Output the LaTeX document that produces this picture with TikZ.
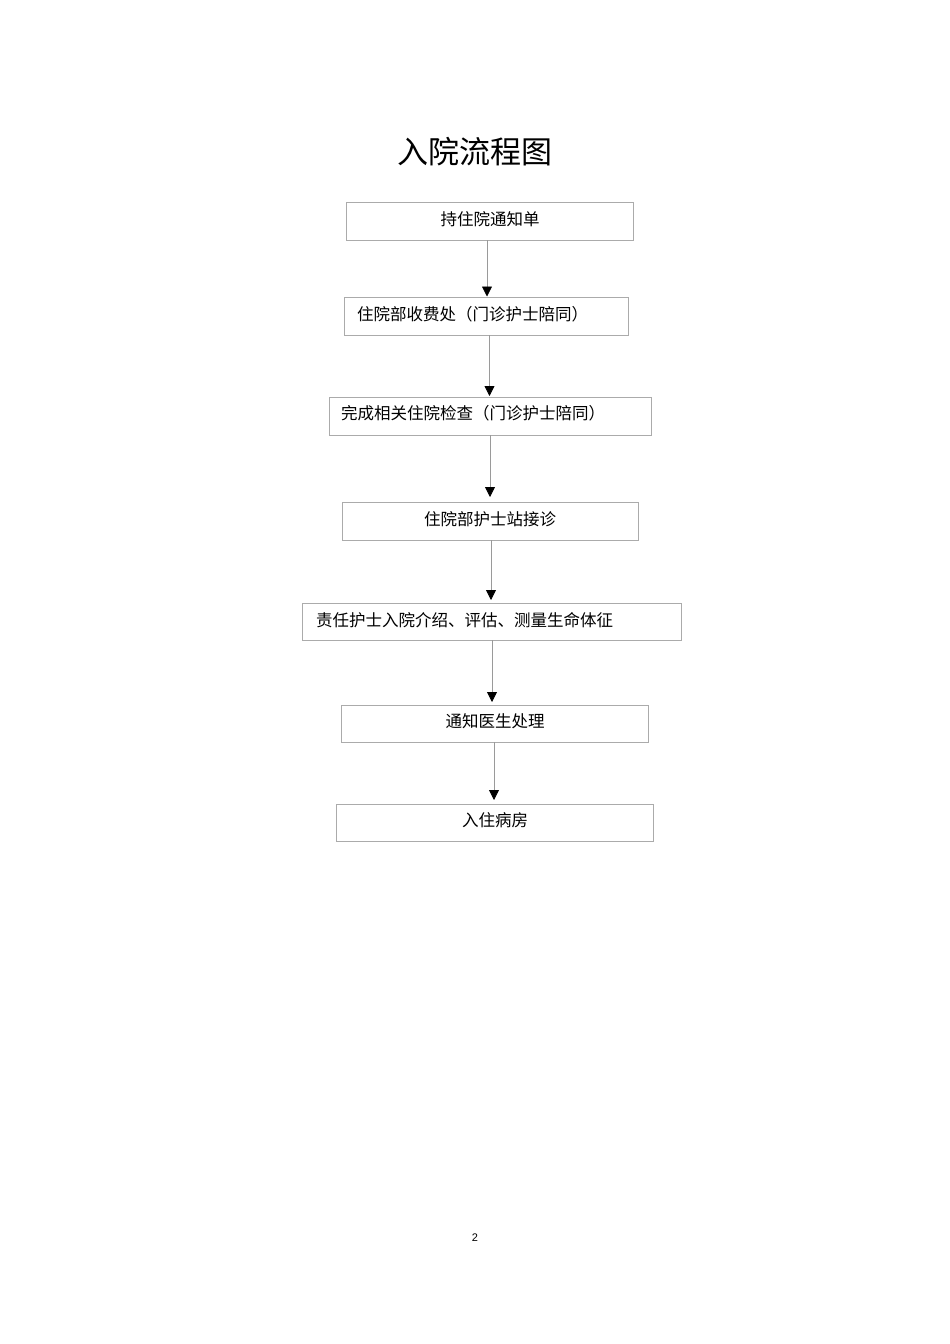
\documentclass[tikz,border=0pt]{standalone}
\usepackage{fontspec}
\newfontfamily\cjk{Noto Sans CJK SC}
\setmainfont{Liberation Sans}
\usetikzlibrary{arrows.meta}
\definecolor{boxgray}{HTML}{ABABAB}
\definecolor{linegray}{HTML}{9A9A9A}
\begin{document}
\begin{tikzpicture}[x=1pt,y=-1pt,
  box/.style={draw=boxgray,line width=0.9pt,inner sep=0pt,outer sep=0pt},
  txt/.style={inner sep=0pt,font=\cjk\fontsize{16.5}{18}\selectfont},
  arr/.style={draw=linegray,line width=0.8pt,-{Triangle[width=10pt,length=10pt,color=black]}}]
\useasboundingbox (0,0) rectangle (950,1344);
\node[inner sep=0pt,font=\cjk\fontsize{31}{34}\selectfont] (title) at (475,152) {入院流程图};
\node[box,minimum width=287pt,minimum height=38pt] (b1) at (489.5,221) {};
\node[box,minimum width=284pt,minimum height=38pt] (b2) at (486,316) {};
\node[box,minimum width=322pt,minimum height=38pt] (b3) at (490,416) {};
\node[box,minimum width=296pt,minimum height=38pt] (b4) at (490,521) {};
\node[box,minimum width=379pt,minimum height=37pt] (b5) at (491.5,621.5) {};
\node[box,minimum width=307pt,minimum height=37pt] (b6) at (494.5,723.5) {};
\node[box,minimum width=317pt,minimum height=37pt] (b7) at (494.5,822.5) {};
\node[txt] (t1) at (490,219) {持住院通知单};
\node[txt,anchor=west] (t2) at (357,314) {住院部收费处（门诊护士陪同）};
\node[txt,anchor=west] (t3) at (341,413) {完成相关住院检查（门诊护士陪同）};
\node[txt] (t4) at (490,519) {住院部护士站接诊};
\node[txt,anchor=west] (t5) at (316,620) {责任护士入院介绍、评估、测量生命体征};
\node[txt] (t6) at (495,721) {通知医生处理};
\node[txt] (t7) at (495,820) {入住病房};
\draw[arr,shorten >=0.5pt] (b1.south -| 487,0) -- (b2.north -| 487,0);
\draw[arr,shorten >=1pt] (b2.south -| 489.5,0) -- (b3.north -| 489.5,0);
\draw[arr,shorten >=5pt] (b3.south -| 490,0) -- (b4.north -| 490,0);
\draw[arr,shorten >=3pt] (b4.south -| 491,0) -- (b5.north -| 491,0);
\draw[arr,shorten >=3pt] (b5.south -| 492,0) -- (b6.north -| 492,0);
\draw[arr,shorten >=4pt] (b6.south -| 494,0) -- (b7.north -| 494,0);
\node[inner sep=0pt,font=\fontsize{11}{13}\selectfont] (page) at (475,1238) {2};
\end{tikzpicture}
\end{document}
